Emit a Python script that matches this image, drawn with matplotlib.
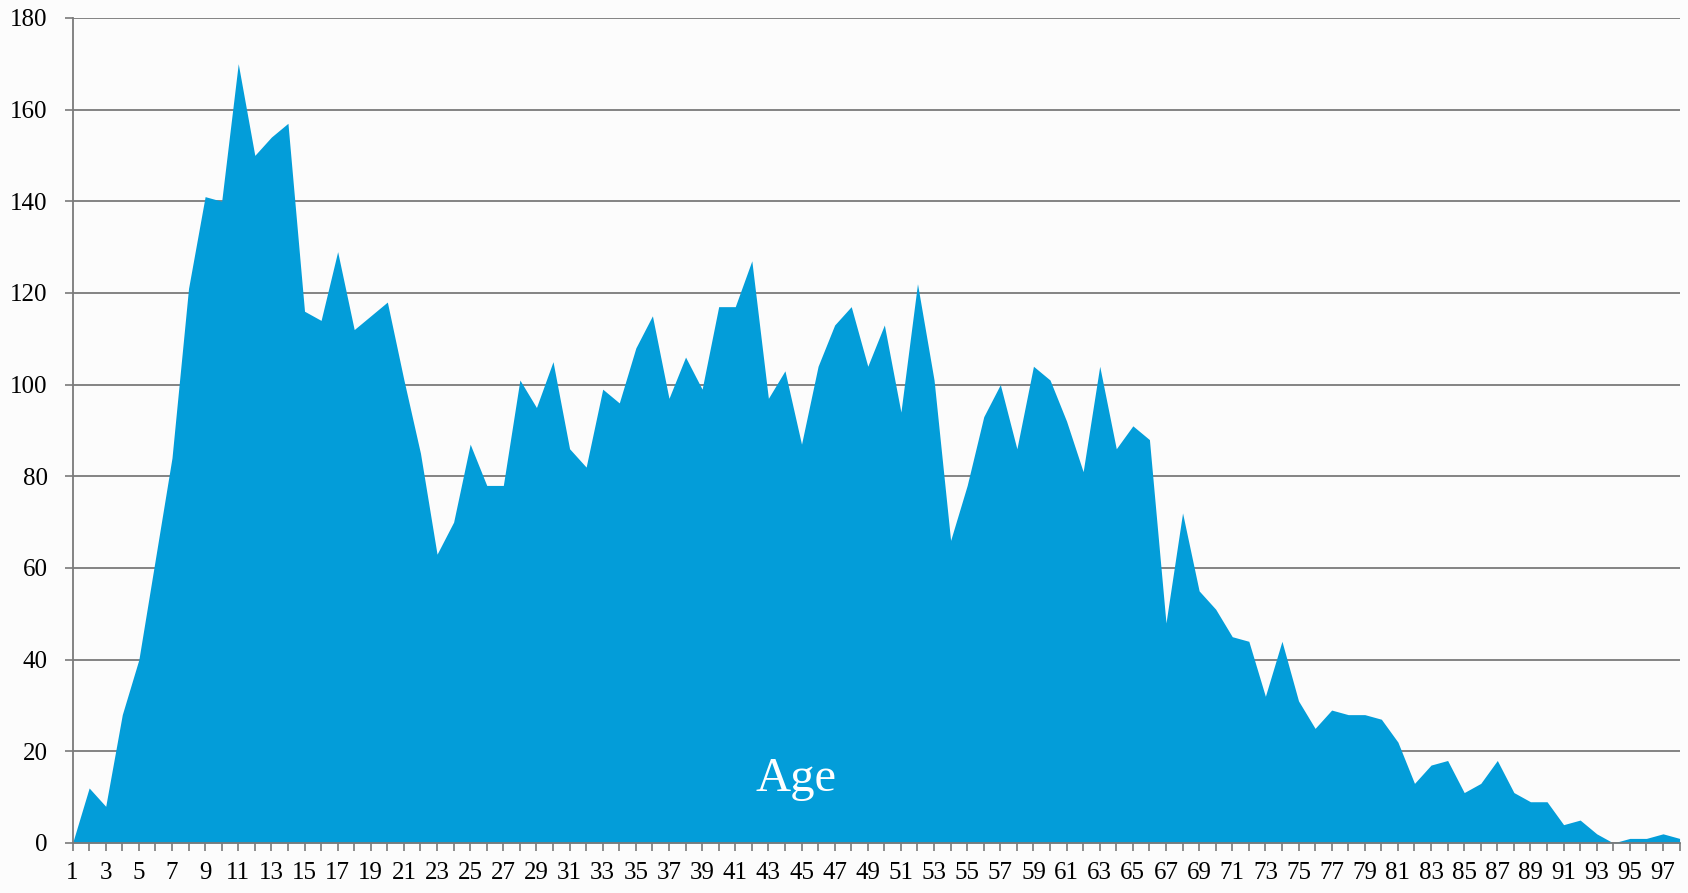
import matplotlib
matplotlib.use('Agg')
import matplotlib.pyplot as plt

ages = list(range(1, 99))
counts = [0, 12, 8, 28, 40, 62, 84, 121, 141, 140,
          170, 150, 154, 157, 116, 114, 129, 112, 115, 118,
          101, 85, 63, 70, 87, 78, 78, 101, 95, 105,
          86, 82, 99, 96, 108, 115, 97, 106, 99, 117,
          117, 127, 97, 103, 87, 104, 113, 117, 104, 113,
          94, 122, 101, 66, 78, 93, 100, 86, 104, 101,
          92, 81, 104, 86, 91, 88, 48, 72, 55, 51,
          45, 44, 32, 44, 31, 25, 29, 28, 28, 27,
          22, 13, 17, 18, 11, 13, 18, 11, 9, 9,
          4, 5, 2, 0, 1, 1, 2, 1]
y_ticks = list(range(0, 181, 20))

plt.rcParams['font.family'] = ['Liberation Serif', 'DejaVu Serif']

fig = plt.figure(figsize=(16.88, 8.93), dpi=100)
fig.patch.set_facecolor('#fcfcfc')
ax = fig.add_axes([0.043, 0.056, 0.952, 0.924])
ax.set_facecolor('#fcfcfc')

ax.fill_between(ages, counts, 0, color='#039dd9', linewidth=0, zorder=2)

ax.set_xlim(1, 98)
ax.set_ylim(0, 180)
ax.set_yticks(y_ticks)
ax.set_xticks(ages)
ax.set_xticklabels([str(a) if a % 2 == 1 else '' for a in ages])
ax.grid(axis='y', color='#7a7a7a', linewidth=1.3, zorder=1)

for side in ['top', 'right']:
    ax.spines[side].set_visible(False)
for side in ['left', 'bottom']:
    ax.spines[side].set_color('#7a7a7a')
    ax.spines[side].set_linewidth(1.3)
    ax.spines[side].set_zorder(3)

ax.tick_params(axis='both', colors='#7a7a7a', labelcolor='black',
               labelsize=18, length=6, width=1.2)
ax.tick_params(axis='x', pad=8)
ax.tick_params(axis='y', pad=12)

ax.text(0.45, 0.078, 'Age', transform=ax.transAxes, color='white',
        fontsize=35, ha='center', va='center', zorder=4)

fig.savefig('out.png', dpi=100, facecolor=fig.get_facecolor())
